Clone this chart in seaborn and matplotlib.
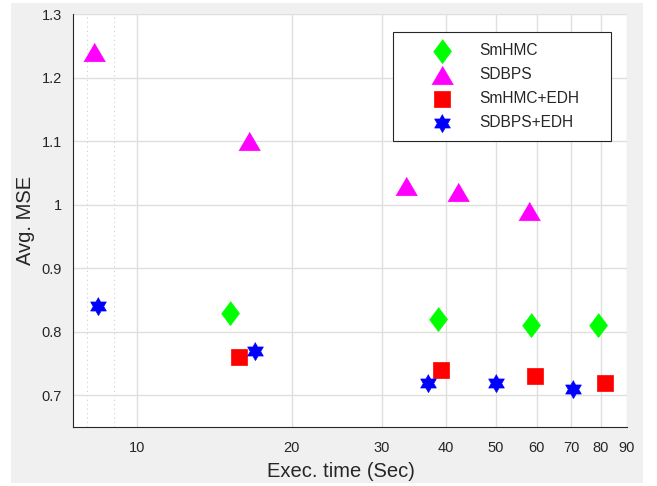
import numpy as np
import pandas as pd
import matplotlib
matplotlib.use("Agg")
import matplotlib.pyplot as plt
import seaborn as sns
from matplotlib.patches import Rectangle
from matplotlib.ticker import FixedLocator, FixedFormatter, NullFormatter

# данные
smhmc_time = [15.2, 38.5, 58.6, 79.0]
smhmc_mse = [0.83, 0.82, 0.81, 0.81]
sdbps_time = [8.23, 16.5, 33.4, 42.1, 58.0]
sdbps_mse = [1.24, 1.10, 1.03, 1.02, 0.99]
smhmc_edh_time = [15.8, 39.0, 59.6, 81.6]
smhmc_edh_mse = [0.76, 0.74, 0.73, 0.72]
sdbps_edh_time = [8.40, 17.0, 36.8, 49.9, 70.7]
sdbps_edh_mse = [0.84, 0.77, 0.72, 0.72, 0.71]

x_ticks = [10, 20, 30, 40, 50, 60, 70, 80, 90]
x_tick_labels = ["10", "20", "30", "40", "50", "60", "70", "80", "90"]
y_ticks = [0.7, 0.8, 0.9, 1.0, 1.1, 1.2, 1.3]
y_tick_labels = ["0.7", "0.8", "0.9", "1", "1.1", "1.2", "1.3"]

sns.set_theme(style="white")
plt.rcParams["font.family"] = ["Liberation Sans", "DejaVu Sans"]

txt = "#262626"
grid_c = "#dfdfdf"

# формы маркеров в стиле MATLAB
diamond = [(0, 1), (0.75, 0), (0, -1), (-0.75, 0)]
triangle = [(0, 1), (1.17, -1), (-1.17, -1)]
ang = np.deg2rad(90 + 30 * np.arange(12))
rad = np.where(np.arange(12) % 2 == 0, 1.0, 1 / np.sqrt(3))
hexagram = list(zip(rad * np.cos(ang), rad * np.sin(ang)))

fig = plt.figure(figsize=(6.57, 4.86), dpi=100)
fig.patch.set_facecolor("white")
fig.patches.append(Rectangle((11 / 657, 3 / 486), 632 / 657, 480 / 486,
                             transform=fig.transFigure, facecolor="#f0f0f0",
                             edgecolor="none", zorder=-10))
ax = fig.add_axes([73 / 657, 59 / 486, 554 / 657, 413 / 486])
ax.set_facecolor("white")

series = [
    (smhmc_time, smhmc_mse, "SmHMC", "#00ff00", diamond, 299),
    (sdbps_time, sdbps_mse, "SDBPS", "#ff00ff", triangle, 240),
    (smhmc_edh_time, smhmc_edh_mse, "SmHMC+EDH", "#ff0000", "s", 117),
    (sdbps_edh_time, sdbps_edh_mse, "SDBPS+EDH", "#0000ff", hexagram, 169),
]
for xs, ys, name, col, mk, sz in series:
    df = pd.DataFrame({"time": xs, "mse": ys})
    sns.scatterplot(data=df, x="time", y="mse", ax=ax, marker=mk, s=sz,
                    color=col, edgecolor=col, linewidth=0.5, label=name,
                    zorder=3)

ax.set_xscale("log")
ax.set_xlim(7.5, 90)
ax.set_ylim(0.65, 1.3)
ax.xaxis.set_major_locator(FixedLocator(x_ticks))
ax.xaxis.set_major_formatter(FixedFormatter(x_tick_labels))
ax.xaxis.set_minor_locator(FixedLocator([8, 9]))
ax.xaxis.set_minor_formatter(NullFormatter())
ax.yaxis.set_major_locator(FixedLocator(y_ticks))
ax.yaxis.set_major_formatter(FixedFormatter(y_tick_labels))

ax.grid(True, which="major", color=grid_c, linewidth=1.0, zorder=0)
ax.grid(True, which="minor", axis="x", color="#cfcfcf", linewidth=0.8,
        linestyle=(0, (1, 3)), zorder=0)
ax.set_axisbelow(True)

for side in ["top", "right"]:
    ax.spines[side].set_visible(False)
for side in ["left", "bottom"]:
    ax.spines[side].set_color(txt)
    ax.spines[side].set_linewidth(0.8)

ax.tick_params(axis="both", which="major", direction="in", length=5,
               width=0.8, color=txt, labelcolor=txt, labelsize=10.5, pad=8)
ax.tick_params(axis="x", which="major", pad=10)
ax.tick_params(axis="x", which="minor", length=0)

ax.set_xlabel("Exec. time (Sec)", fontsize=14.5, color=txt, labelpad=5)
ax.xaxis.label.set_x(0.484)
ax.set_ylabel("Avg. MSE", fontsize=14.5, color=txt, labelpad=5)

leg = ax.legend(loc="upper left", bbox_to_anchor=(0.5776, 0.695, 0.3935, 0.2615),
                mode="expand", borderaxespad=0, fontsize=11.2, frameon=True,
                fancybox=False, handlelength=4.8, handletextpad=0.0,
                labelspacing=0.58, borderpad=0.72)
leg.get_frame().set_edgecolor(txt)
leg.get_frame().set_linewidth(0.8)
leg.get_frame().set_facecolor("white")
leg.get_frame().set_alpha(1)
for t in leg.get_texts():
    t.set_color(txt)

fig.savefig("out.png", dpi=100, facecolor=fig.get_facecolor())
